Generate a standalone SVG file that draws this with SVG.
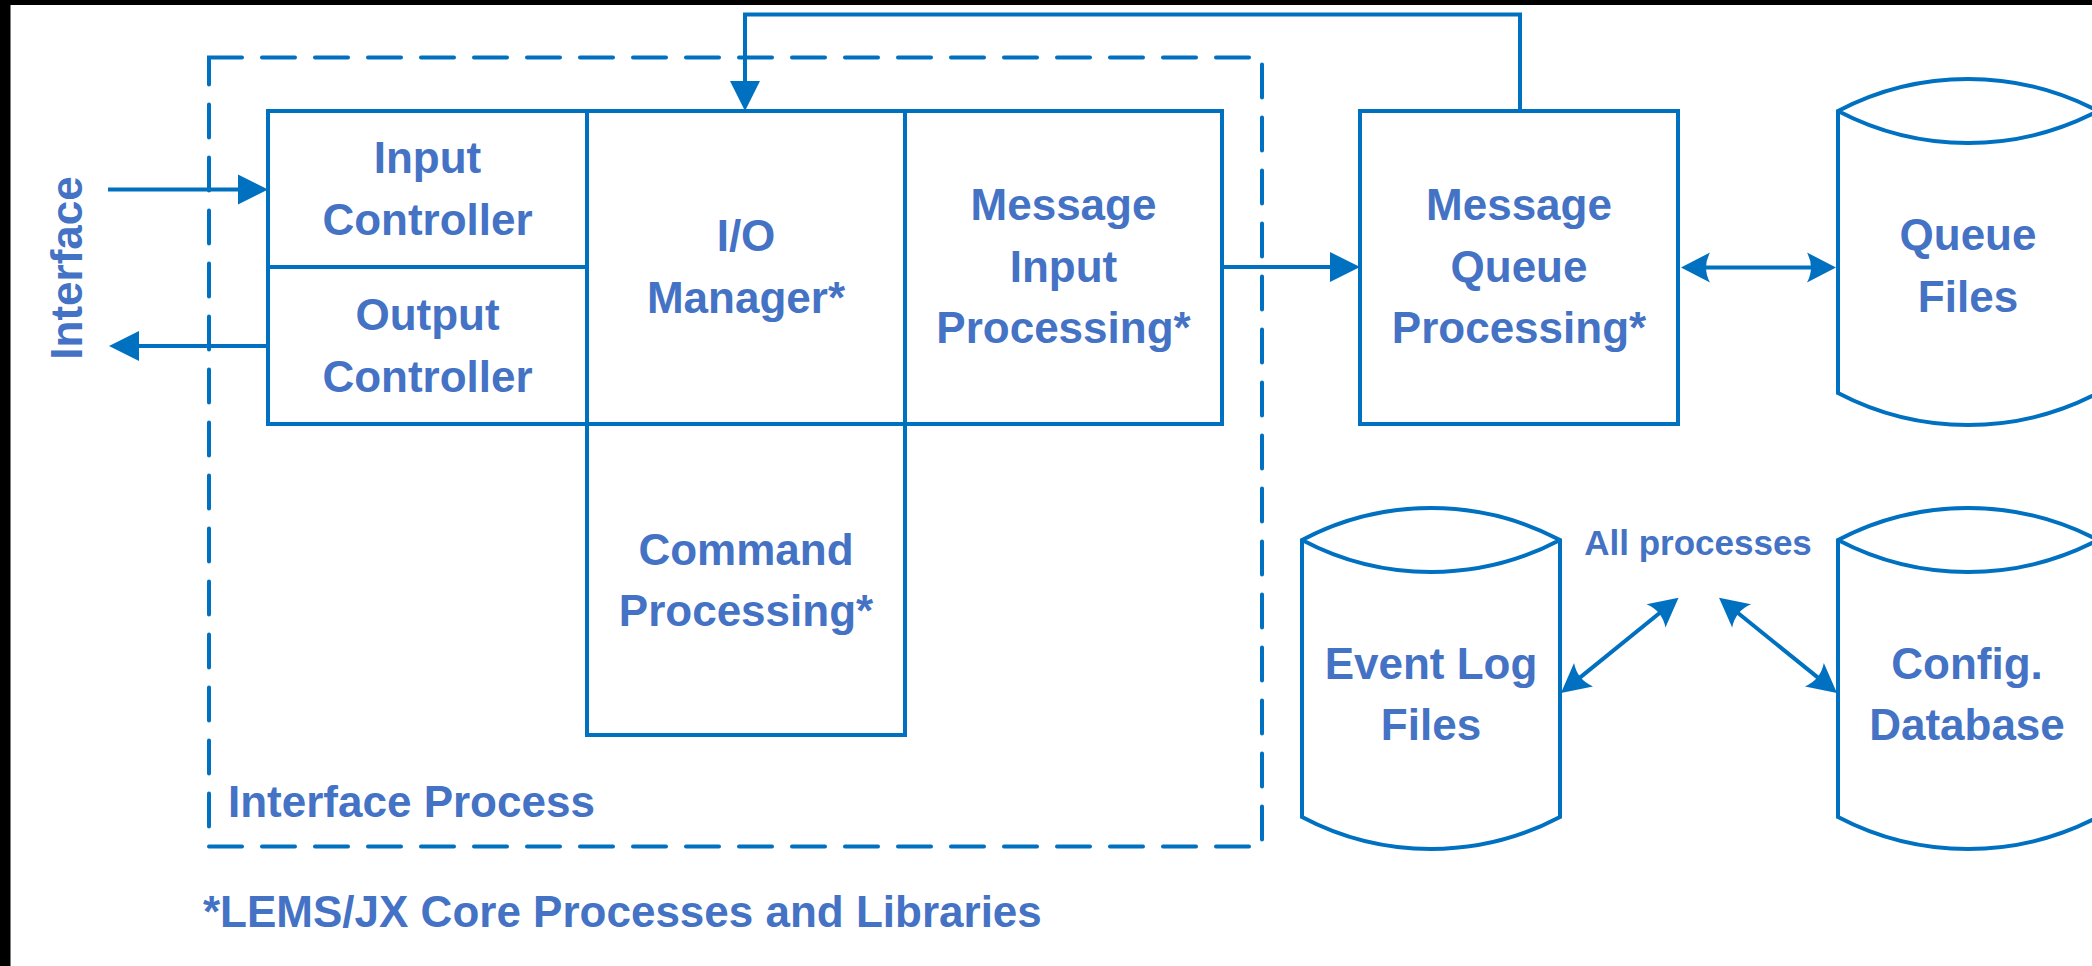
<svg xmlns="http://www.w3.org/2000/svg" width="2092" height="966" viewBox="0 0 2092 966">
<style>
.box{fill:none;stroke:#0070C0;stroke-width:4}
.dash{fill:none;stroke:#0070C0;stroke-width:4;stroke-dasharray:33 20;stroke-linecap:round}
.ln{fill:none;stroke:#0070C0;stroke-width:4}
.t{font-family:"Liberation Sans",Arial,sans-serif;font-weight:bold;font-size:44px;fill:#4472C4;text-anchor:middle}
.tl{text-anchor:start}
.small{font-size:35px}
</style>
<defs>
<marker id="tri" markerUnits="userSpaceOnUse" markerWidth="40" markerHeight="40" viewBox="-10 -20 40 40" refX="0" refY="0" orient="auto"><path d="M26,0 L-4,-15 L-4,15 Z" fill="#0070C0"/></marker>
<marker id="dbl" markerUnits="userSpaceOnUse" markerWidth="40" markerHeight="40" viewBox="-15 -20 40 40" refX="0" refY="0" orient="auto-start-reverse"><path d="M20,0 L-9,-15 Q-1,0 -9,15 Z" fill="#0070C0"/></marker>
</defs>
<rect width="2092" height="966" fill="#fff"/>
<rect x="0" y="0" width="2092" height="5" fill="#000"/>
<rect x="0" y="0" width="10.5" height="966" fill="#000"/>

<g id="interface-process">
<rect class="dash" x="209" y="57.5" width="1053" height="789"/>
<text class="t tl" x="228" y="817">Interface Process</text>
</g>

<g id="input-controller">
<rect class="box" x="268" y="111" width="319" height="156"/>
<text class="t" x="427.5" y="173">Input</text>
<text class="t" x="427.5" y="235">Controller</text>
</g>
<g id="output-controller">
<rect class="box" x="268" y="267" width="319" height="157"/>
<text class="t" x="427.5" y="330">Output</text>
<text class="t" x="427.5" y="392">Controller</text>
</g>
<g id="io-manager">
<rect class="box" x="587" y="111" width="318" height="313"/>
<text class="t" x="746" y="251">I/O</text>
<text class="t" x="746" y="313">Manager*</text>
</g>
<g id="message-input-processing">
<rect class="box" x="905" y="111" width="317" height="313"/>
<text class="t" x="1063.5" y="220">Message</text>
<text class="t" x="1063.5" y="282">Input</text>
<text class="t" x="1063.5" y="343">Processing*</text>
</g>
<g id="command-processing">
<rect class="box" x="587" y="424" width="318" height="311"/>
<text class="t" x="746" y="565">Command</text>
<text class="t" x="746" y="626">Processing*</text>
</g>
<g id="message-queue-processing">
<rect class="box" x="1360" y="111" width="318" height="313"/>
<text class="t" x="1519" y="220">Message</text>
<text class="t" x="1519" y="282">Queue</text>
<text class="t" x="1519" y="343">Processing*</text>
</g>
<g id="queue-files">
<path class="box" d="M1838,111 A280,280 0 0 1 2098,111 L2098,393 A280,280 0 0 1 1838,393 Z M1838,111 A280,280 0 0 0 2098,111"/>
<text class="t" x="1968" y="250">Queue</text>
<text class="t" x="1968" y="312">Files</text>
</g>
<g id="event-log-files">
<path class="box" d="M1302,540 A276,276 0 0 1 1560,540 L1560,817 A276,276 0 0 1 1302,817 Z M1302,540 A276,276 0 0 0 1560,540"/>
<text class="t" x="1431" y="679">Event Log</text>
<text class="t" x="1431" y="740">Files</text>
</g>
<g id="config-database">
<path class="box" d="M1838,540 A280,280 0 0 1 2098,540 L2098,817 A280,280 0 0 1 1838,817 Z M1838,540 A280,280 0 0 0 2098,540"/>
<text class="t" x="1967" y="679">Config.</text>
<text class="t" x="1967" y="740">Database</text>
</g>
<g id="all-processes">
<text class="t small" x="1698" y="555">All processes</text>
</g>

<g id="connectors">
<line class="ln" x1="108" y1="189.5" x2="242" y2="189.5" marker-end="url(#tri)"/>
<line class="ln" x1="268" y1="346" x2="135" y2="346" marker-end="url(#tri)"/>
<line class="ln" x1="1222" y1="267" x2="1334" y2="267" marker-end="url(#tri)"/>
<polyline class="ln" points="1520,111 1520,14.5 745,14.5 745,85" marker-end="url(#tri)"/>
<line class="ln" x1="1701" y1="267.5" x2="1816" y2="267.5" marker-start="url(#dbl)" marker-end="url(#dbl)"/>
<line class="ln" x1="1576.5" y1="680.4" x2="1663" y2="610.3" marker-start="url(#dbl)" marker-end="url(#dbl)"/>
<line class="ln" x1="1734.6" y1="610.3" x2="1821.4" y2="680.4" marker-start="url(#dbl)" marker-end="url(#dbl)"/>
</g>

<text class="t tl" x="203" y="927">*LEMS/JX Core Processes and Libraries</text>
<g id="interface-label">
<text class="t" transform="translate(82,268) rotate(-90)">Interface</text>
</g>
</svg>
